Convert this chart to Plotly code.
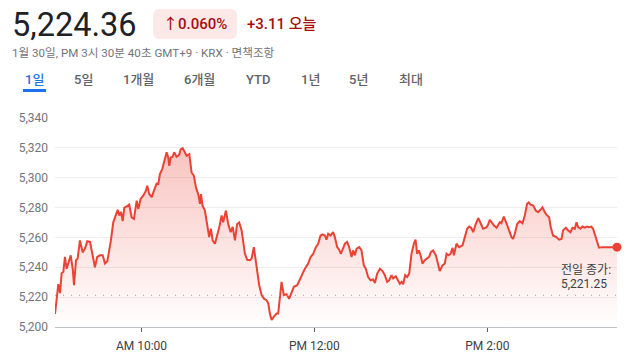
import pandas as pd
import plotly.graph_objects as go

# ---------------- data ----------------
session_date = "2026-01-30 09:00"
minutes = [0, 1.2, 2.3, 3.5, 4.6, 5.8, 6.9, 8.1, 9.2, 10.9, 12.3, 13.2, 14.6, 15.7, 17.3, 19.2, 20.8, 22.4, 24.3, 26.1,
           27.7, 29.3, 31.2, 33.1, 34.7, 36.3, 37.7, 38.8, 40.4, 42.3, 43.5, 44.6, 45.8, 47, 48.1, 50.1, 51.5, 53.2, 54.8,
           56.7, 57.8, 59.4, 61.2, 63.1, 64, 65.4, 67.1, 68.7, 70.5, 71.7, 72.8, 74.4, 75.8, 77.5, 78.6, 79.3, 80.3, 81.6,
           82.7, 84.4, 86.2, 87.2, 88.6, 89.7, 91.4, 93.2, 94.8, 96.4, 97.8, 99.4, 100.6, 101.3, 102.4, 104, 105.6, 107,
           108.2, 109.4, 111, 112.6, 114, 115.6, 116.7, 118.6, 120.2, 121.9, 123.3, 124.9, 126.4, 127.8, 129.5, 131.8,
           133.4, 135.3, 136.4, 138, 139.9, 141.7, 143.4, 145, 146.8, 148, 149.1, 150.3, 151.9, 153.8, 154.9, 156.1,
           157.2, 158.8, 160.7, 162.5, 164.2, 165.8, 168.1, 169.9, 171.8, 173.4, 175.7, 177.4, 179.2, 181, 182.6, 184.3,
           185.7, 187.3, 188.4, 189.6, 191.2, 193, 194.2, 195.8, 197.2, 198.4, 199.6, 201.2, 202.7, 204.1, 205.8, 206.9,
           208.1, 209.3, 211.1, 212.7, 214.3, 215.7, 217.3, 219, 220.8, 222, 223.6, 225.5, 227.3, 228.9, 230.5, 231.9,
           233.5, 234.7, 236.5, 238.1, 239.3, 240.5, 241.6, 243, 244.4, 245.8, 247.4, 249, 250.2, 251.3, 252.5, 253.7,
           255, 256.6, 258.2, 259.6, 260.8, 262.4, 264.3, 265.9, 267, 268.9, 270.5, 271.7, 273.1, 274.5, 275.9, 276.8,
           278.6, 280.4, 282.8, 284.4, 286, 287.4, 288.8, 290.2, 291.6, 293.7, 295.3, 297.1, 299, 300.3, 301.7, 303.3,
           304.7, 306.4, 307.5, 308.7, 309.8, 311.4, 313.3, 315.1, 316.8, 317.9, 319.1, 320.7, 322.5, 324.4, 326, 327.6,
           328.8, 330, 331.8, 333.6, 335.2, 336.9, 338.3, 339.9, 341, 342.9, 344, 345.6, 347.9, 349.8, 351.5, 352.6,
           354.5, 356, 357.7, 359.1, 360.7, 361.9, 363, 364.6, 366, 367.6, 369.2, 370.6, 372.2, 373.4, 375.2, 376.4,
           377.5, 380, 390]
prices = [5208.7, 5220, 5228.7, 5222.7, 5236, 5237, 5247, 5239, 5242.7, 5248, 5239, 5228, 5244.7, 5245.8, 5258, 5250,
          5252.5, 5257.5, 5257, 5249, 5240, 5247, 5248, 5248, 5242.5, 5244, 5251, 5258, 5270, 5276, 5278.5, 5274.7,
          5277, 5271, 5280, 5281, 5282, 5273.5, 5272.5, 5284.7, 5279, 5285.8, 5288, 5291.3, 5294.7, 5289, 5287, 5291.3,
          5296, 5295.8, 5302.5, 5305.8, 5311, 5317, 5313.5, 5308, 5313.5, 5314, 5317, 5314, 5315.3, 5319, 5319.8, 5318,
          5314.7, 5315.8, 5303.5, 5301.3, 5293.5, 5289, 5282.5, 5289, 5281.3, 5278, 5268, 5260.2, 5265.8, 5258, 5255.8,
          5261.3, 5266.9, 5274.7, 5270.2, 5278, 5269, 5263.5, 5267, 5258, 5269, 5270, 5264.7, 5249, 5245, 5244.7,
          5245.8, 5253.5, 5240.2, 5228, 5221.3, 5219, 5218, 5215.8, 5209, 5204.7, 5206.9, 5209, 5209, 5218, 5230.2,
          5221.3, 5222, 5219, 5223.5, 5226.9, 5228, 5231.3, 5235.8, 5239, 5242.5, 5246.9, 5249, 5253.5, 5255.8, 5261.3,
          5262, 5261.3, 5258.5, 5262.5, 5261.3, 5263.5, 5260.2, 5253.5, 5251.8, 5249, 5252.5, 5255.8, 5257, 5253.5,
          5246.9, 5251.3, 5248, 5252.5, 5253.5, 5251.3, 5241.3, 5239, 5233.5, 5231.3, 5231.8, 5229.5, 5235.8, 5239,
          5237.5, 5234.7, 5230.2, 5231.3, 5234.7, 5232.5, 5234, 5231.3, 5229, 5230.2, 5228.7, 5234.7, 5233.5, 5235.8,
          5249, 5255.8, 5258.5, 5249, 5251.3, 5248, 5242.5, 5244.7, 5245.8, 5247, 5250.2, 5251.3, 5248, 5241.3, 5237.5,
          5241.3, 5242.5, 5249, 5248, 5249, 5253, 5248, 5255.8, 5253.5, 5254.7, 5260.2, 5265.8, 5267.3, 5266.5, 5263.5,
          5268, 5273, 5269, 5265.8, 5266.5, 5268, 5271.8, 5269.5, 5268, 5266.5, 5268.7, 5270.2, 5269.5, 5274, 5269.5,
          5265.1, 5260.2, 5259, 5262.5, 5269, 5270.9, 5269.5, 5274.7, 5282.5, 5283.5, 5282, 5281.5, 5278, 5276.9,
          5278.5, 5280.2, 5276.9, 5275.3, 5273.5, 5266.9, 5261.3, 5260.2, 5258.5, 5259, 5264.7, 5266.5, 5264.7, 5263.5,
          5266.5, 5265.8, 5270.2, 5266.9, 5265.8, 5267.3, 5266.5, 5267.3, 5266.9, 5267.3, 5265.8, 5260.2, 5255.8,
          5253.1, 5253.5, 5253.5]
prev_close = 5221.25
ytick_vals = [5200, 5220, 5240, 5260, 5280, 5300, 5320, 5340]
xtick_minutes = [60, 180, 300]
xtick_labels = ["AM 10:00", "PM 12:00", "PM 2:00"]
tab_labels = ["1일", "5일", "1개월", "6개월", "YTD", "1년", "5년", "최대"]
price_text = "5,224.36"
pct_text = "↑0.060%"
delta_text = "+3.11 오늘"
subtitle_text = "1월 30일, PM 3시 30분 40초 GMT+9 · KRX · 면책조항"
prev_close_label = ["전일 종가:", "5,221.25"]

# ---------------- layout helpers ----------------
OFF = 8                      # page body margin in the browser
W_FIG, H_FIG = 640 - OFF, 360 - OFF
L, R, T, B = 55, 617, 118, 327   # plot area in screen pixels
PW, PH = R - L, B - T


def px(x):
    return (x - L) / PW


def py(y):
    return (B - y) / PH


RED = "#ea4335"
FONT = "Roboto, 'Noto Sans CJK KR', sans-serif"

base = pd.Timestamp(session_date)
times = base + pd.to_timedelta(minutes, unit="min")
tick_times = base + pd.to_timedelta(xtick_minutes, unit="min")
x_end = base + pd.to_timedelta(390, unit="min")

fig = go.Figure()
fig.add_trace(go.Scatter(
    x=times, y=prices, mode="lines",
    line=dict(color=RED, width=2),
    fill="tozeroy",
    fillgradient=dict(type="vertical", start=5200, stop=5322,
                      colorscale=[[0, "rgba(234,67,53,0)"], [1, "rgba(234,67,53,0.32)"]]),
    hoverinfo="skip", showlegend=False,
))
fig.add_trace(go.Scatter(
    x=[times[-1]], y=[prices[-1]], mode="markers",
    marker=dict(color=RED, size=9), cliponaxis=False,
    hoverinfo="skip", showlegend=False,
))

shapes = [
    dict(type="line", xref="paper", yref="y", x0=0, x1=1, y0=prev_close, y1=prev_close,
         line=dict(color="#9aa0a6", width=1, dash="1px,7px"), layer="above"),
]

# badge (rounded rect)
bx0, bx1, by0, by1, rad = 153, 237, 9, 39, 7
path = (f"M {px(bx0 + rad)},{py(by0)} L {px(bx1 - rad)},{py(by0)} "
        f"Q {px(bx1)},{py(by0)} {px(bx1)},{py(by0 + rad)} L {px(bx1)},{py(by1 - rad)} "
        f"Q {px(bx1)},{py(by1)} {px(bx1 - rad)},{py(by1)} L {px(bx0 + rad)},{py(by1)} "
        f"Q {px(bx0)},{py(by1)} {px(bx0)},{py(by1 - rad)} L {px(bx0)},{py(by0 + rad)} "
        f"Q {px(bx0)},{py(by0)} {px(bx0 + rad)},{py(by0)} Z")
shapes.append(dict(type="path", xref="paper", yref="paper", path=path,
                   fillcolor="#fce8e6", line=dict(width=0), layer="above"))
# active tab underline
shapes.append(dict(type="rect", xref="paper", yref="paper", x0=px(23), x1=px(46), y0=py(92), y1=py(89),
                   fillcolor="#1a73e8", line=dict(width=0), layer="above"))

annotations = [
    dict(text=price_text, x=px(10), y=py(25), xanchor="left", yanchor="middle",
         font=dict(family=FONT, size=32.5, color="#202124")),
    dict(text=pct_text, x=px(195), y=py(24), xanchor="center", yanchor="middle",
         font=dict(family=FONT, size=15, color="#a50e0e", weight=500)),
    dict(text=delta_text, x=px(245), y=py(24), xanchor="left", yanchor="middle",
         font=dict(family=FONT, size=15, color="#a50e0e", weight=500)),
    dict(text=subtitle_text, x=px(10), y=py(53), xanchor="left", yanchor="middle",
         font=dict(family=FONT, size=11.6, color="#70757a")),
]
tab_centers = [35, 83, 138, 199, 258, 310, 358, 411]
for lbl, cx in zip(tab_labels, tab_centers):
    annotations.append(dict(text=lbl, x=px(cx), y=py(80), xanchor="center", yanchor="middle",
                            font=dict(family=FONT, size=13, weight=500,
                                      color="#1a73e8" if lbl == "1일" else "#5f6368")))
annotations.append(dict(text=prev_close_label[0], x=px(559), y=py(270), xanchor="left", yanchor="middle",
                        font=dict(family=FONT, size=12, color="#3c4043")))
annotations.append(dict(text=prev_close_label[1], x=px(559), y=py(284), xanchor="left", yanchor="middle",
                        font=dict(family=FONT, size=12, color="#3c4043")))
for a in annotations:
    a.update(xref="paper", yref="paper", showarrow=False)

fig.update_layout(
    width=W_FIG, height=H_FIG,
    margin=dict(l=L - OFF, r=W_FIG - (R - OFF), t=T - OFF, b=H_FIG - (B - OFF), autoexpand=False),
    paper_bgcolor="white", plot_bgcolor="white",
    shapes=shapes, annotations=annotations,
    font=dict(family=FONT),
    xaxis=dict(range=[base, x_end], tickvals=tick_times, ticktext=xtick_labels, automargin=False,
               showgrid=False, zeroline=False, showline=True, linecolor="#bdc1c6", linewidth=1,
               ticks="outside", ticklen=4, tickcolor="#5f6368", tickwidth=1,
               tickfont=dict(size=12, color="#3c4043"), ticklabelstandoff=4),
    yaxis=dict(range=[5200, 5340], tickvals=ytick_vals, tickformat=",", automargin=False,
               showgrid=True, gridcolor="#eeeeee", gridwidth=1, zeroline=False,
               tickfont=dict(size=12, color="#70757a"), ticklabelstandoff=6),
)

fig.write_html("out.html")
